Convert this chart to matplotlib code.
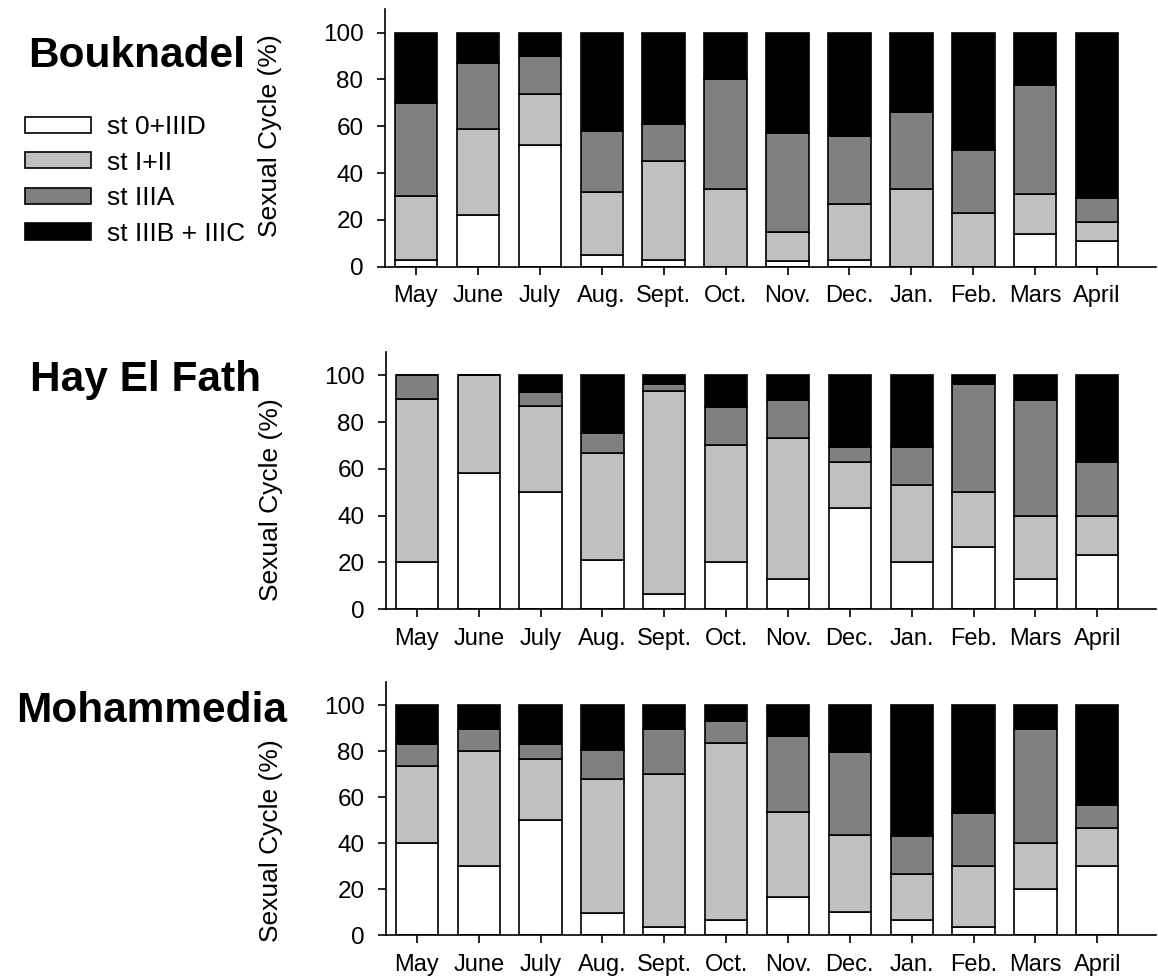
import matplotlib
matplotlib.use("Agg")
import matplotlib.pyplot as plt
import numpy as np

plt.rcParams['font.family'] = ['Liberation Sans', 'DejaVu Sans']

months = ["May", "June", "July", "Aug.", "Sept.", "Oct.", "Nov.", "Dec.",
          "Jan.", "Feb.", "Mars", "April"]
stages = ["st 0+IIID", "st I+II", "st IIIA", "st IIIB + IIIC"]
sites = ["Bouknadel", "Hay El Fath", "Mohammedia"]

# Segment percentages per stage (bottom to top)
bouknadel_st0 = [3, 22, 52, 5, 3, 0, 2.5, 3, 0, 0, 14, 11]
bouknadel_st12 = [27, 37, 22, 27, 42, 33, 12.5, 24, 33, 23, 17, 8]
bouknadel_st3a = [40, 28, 16, 26, 16, 47, 42, 29, 33, 27, 46.5, 10.5]
bouknadel_st3bc = [30, 13, 10, 42, 39, 20, 43, 44, 34, 50, 22.5, 70.5]

hayelfath_st0 = [20, 58, 50, 21, 6.3, 20, 13, 43.1, 20, 26.6, 13, 23.1]
hayelfath_st12 = [70, 42, 36.7, 45.7, 87, 50, 60.1, 19.9, 33.1, 23.4, 27, 16.9]
hayelfath_st3a = [10, 0, 6.3, 8.7, 3.1, 16.4, 16.5, 6.4, 16.3, 46.3, 49.6, 22.9]
hayelfath_st3bc = [0, 0, 7, 24.6, 3.6, 13.6, 10.4, 30.6, 30.6, 3.7, 10.4, 37.1]

mohammedia_st0 = [40, 30, 50, 9.7, 3.3, 6.7, 16.7, 10, 6.7, 3.3, 20, 30]
mohammedia_st12 = [33.3, 50, 26.5, 58, 66.7, 76.6, 36.6, 33.3, 20, 26.7, 20, 16.7]
mohammedia_st3a = [9.7, 9.6, 6.5, 12.6, 19.6, 9.7, 33.1, 36.3, 16.3, 23, 49.6, 9.7]
mohammedia_st3bc = [17, 10.4, 17, 19.7, 10.4, 7, 13.6, 20.4, 57, 47, 10.4, 43.6]

site_data = [
    [bouknadel_st0, bouknadel_st12, bouknadel_st3a, bouknadel_st3bc],
    [hayelfath_st0, hayelfath_st12, hayelfath_st3a, hayelfath_st3bc],
    [mohammedia_st0, mohammedia_st12, mohammedia_st3a, mohammedia_st3bc],
]

colors = ["#FFFFFF", "#C0C0C0", "#808080", "#000000"]

W, H = 1158, 980
fig = plt.figure(figsize=(W / 100, H / 100), dpi=100)

# axes geometry in pixels: (left, bottom_px_of_zero, top_px)
panels = [(385, 266.7, 9.3), (386, 609.0, 352.0), (386, 935.0, 682.0)]
right_px = 1156
label_y = [0.508, 0.424, 0.373]
title_pos = [(28, 67), (30, 391), (16, 722)]

x = np.arange(len(months))
handles = None
for i, (lp, zp, tp) in enumerate(panels):
    ax = fig.add_axes([lp / W, 1 - zp / H, (right_px - lp) / W, (zp - tp) / H])
    bottom = np.zeros(len(months))
    hs = []
    for vals, col, lab in zip(site_data[i], colors, stages):
        vals = np.array(vals, dtype=float)
        b = ax.bar(x, vals, width=0.685, bottom=bottom, color=col,
                   edgecolor="black", linewidth=1.2, label=lab, zorder=2)
        hs.append(b)
        bottom += vals
    if i == 0:
        handles = hs
    ax.set_xlim(-0.5, 11.95)
    ax.set_ylim(0, 110)
    ax.set_yticks([0, 20, 40, 60, 80, 100])
    ax.set_xticks(x)
    ax.set_xticklabels(months)
    for s in ["top", "right"]:
        ax.spines[s].set_visible(False)
    for s in ["left", "bottom"]:
        ax.spines[s].set_linewidth(1.2)
    ax.tick_params(axis="both", direction="out", length=5.5, width=1.2)
    ax.tick_params(axis="x", pad=8, labelsize=17)
    ax.tick_params(axis="y", pad=10, labelsize=17.5)
    ax.set_ylabel("Sexual Cycle (%)", fontsize=19)
    ax.yaxis.set_label_coords(-0.1338, label_y[i])
    tx, ty = title_pos[i]
    fig.text(tx / W, 1 - ty / H, sites[i], fontsize=30.5, fontweight="bold",
             ha="left", va="baseline")

fig.legend(handles=handles, labels=stages, loc="upper left",
           bbox_to_anchor=(25 / W, 1 - 115 / H), frameon=False,
           fontsize=19, handlelength=2.5, handleheight=0.57,
           handletextpad=0.6, labelspacing=0.44, borderpad=0,
           borderaxespad=0)

fig.savefig("out.png", dpi=100)
